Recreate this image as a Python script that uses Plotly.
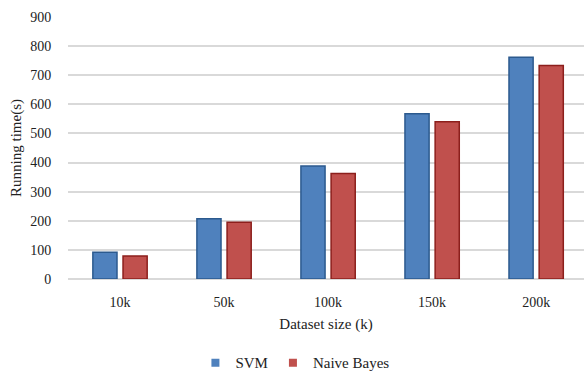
import plotly.graph_objects as go

categories = ["10k", "50k", "100k", "150k", "200k"]
svm_values = [92, 207, 388, 568, 762]
nb_values = [79, 195, 362, 540, 733]
y_ticks = [0, 100, 200, 300, 400, 500, 600, 700, 800, 900]

font_family = "Liberation Serif, Times New Roman, serif"
svm_color = "#4F81BD"
nb_color = "#C0504D"

fig = go.Figure()
fig.add_trace(go.Bar(
    x=categories, y=svm_values, name="SVM", showlegend=False,
    marker=dict(color=svm_color, line=dict(color="#2C5A8E", width=1.5)),
))
fig.add_trace(go.Bar(
    x=categories, y=nb_values, name="Naive Bayes", showlegend=False,
    marker=dict(color=nb_color, line=dict(color="#8C1F1C", width=1.5)),
))
# legend-only entries with small square swatches
for name, col in [("SVM", svm_color), ("Naive Bayes", nb_color)]:
    fig.add_trace(go.Scatter(
        x=[None], y=[None], mode="markers", name=name,
        marker=dict(symbol="square", size=8, color=col, line=dict(width=0)),
    ))

fig.update_layout(
    width=584, height=378,
    margin=dict(l=68, r=0, t=17, b=99),
    paper_bgcolor="white", plot_bgcolor="white",
    barmode="group", bargap=0.42, bargroupgap=0.2,
    font=dict(family=font_family, size=14, color="#222"),
    showlegend=True,
    legend=dict(orientation="h", xref="container", yref="container",
                x=0.505, xanchor="center", y=0.04, yanchor="middle",
                font=dict(size=15, family=font_family), itemwidth=30,
                tracegroupgap=0, traceorder="normal"),
    xaxis=dict(
        type="category", range=[-0.5, 4.46], automargin=False,
        showgrid=False, showline=False, zeroline=False,
        ticks="outside", ticklen=10, tickcolor="rgba(0,0,0,0)",
        tickfont=dict(size=14),
        title=dict(text="Dataset size (k)", font=dict(size=15), standoff=9),
    ),
    yaxis=dict(
        range=[0, 900], tickvals=y_ticks, automargin=False,
        showgrid=True, gridcolor="#D9D9D9", gridwidth=1.5,
        zeroline=True, zerolinecolor="#D9D9D9", zerolinewidth=1.5,
        showline=False,
        ticks="outside", ticklen=13, tickcolor="rgba(0,0,0,0)",
        tickfont=dict(size=14),
        title=dict(text="Running time(s)", font=dict(size=15), standoff=4),
    ),
)

fig.write_html("out.html", config={"displayModeBar": False},
               post_script="document.body.style.margin='0';")
